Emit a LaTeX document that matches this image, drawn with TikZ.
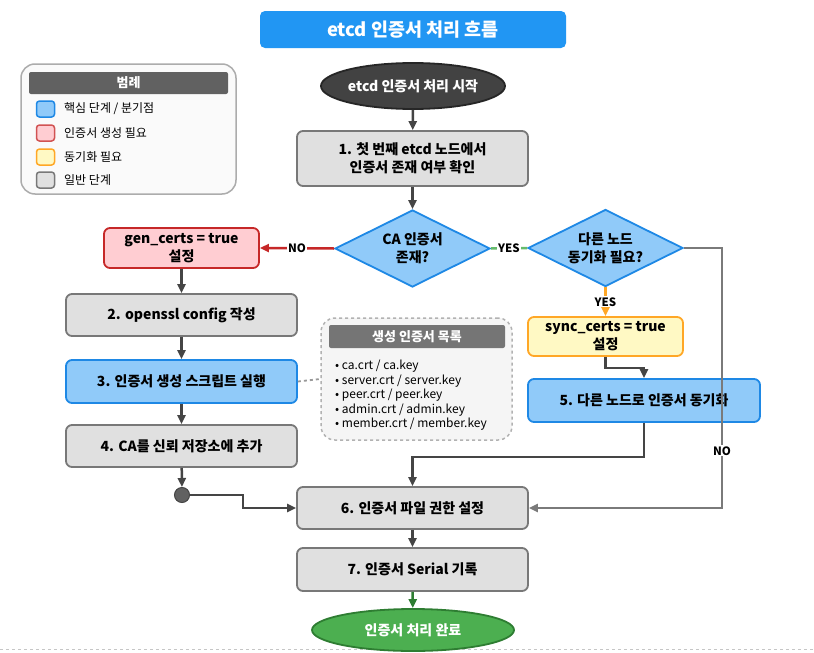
\documentclass[tikz,border=0pt]{standalone}
\usepackage{fontspec}
\setmainfont{Noto Sans CJK KR}
\usetikzlibrary{shapes.geometric,arrows.meta}
\definecolor{titleblue}{HTML}{2196F3}
\definecolor{linedark}{HTML}{454545}
\definecolor{grayfill}{HTML}{E0E0E0}
\definecolor{grayborder}{HTML}{787878}
\definecolor{bluefill}{HTML}{90CAF9}
\definecolor{blueborder}{HTML}{1E88E5}
\definecolor{redfill}{HTML}{FFCDD2}
\definecolor{redborder}{HTML}{C62828}
\definecolor{yelfill}{HTML}{FFF9C4}
\definecolor{yelborder}{HTML}{FFA726}
\definecolor{greenfill}{HTML}{4CAF50}
\definecolor{greenborder}{HTML}{2E7D32}
\definecolor{yesgreen}{HTML}{66BB6A}
\definecolor{nogray}{HTML}{7A7A7A}
\definecolor{startfill}{HTML}{424242}
\definecolor{legendbg}{HTML}{FAFAFA}
\definecolor{legendhead}{HTML}{616161}
\definecolor{listbg}{HTML}{F5F5F5}
\definecolor{listhead}{HTML}{757575}
\begin{document}
\begin{tikzpicture}[x=1pt,y=-1pt,
  base/.style={rectangle, rounded corners=6pt, line width=1.8pt, align=center,
     font=\fontsize{14}{18}\selectfont\bfseries, text=black, inner sep=0pt},
  graybox/.style={base, fill=grayfill, draw=grayborder, minimum width=231pt},
  bluebox/.style={base, fill=bluefill, draw=blueborder},
  redbox/.style={base, fill=redfill, draw=redborder},
  yelbox/.style={base, fill=yelfill, draw=yelborder},
  decision/.style={diamond, aspect=2, inner sep=0pt, minimum width=155pt, minimum height=77pt,
     fill=bluefill, draw=blueborder, line width=1.8pt, align=center,
     font=\fontsize{14}{18}\selectfont\bfseries},
  conn/.style={draw=linedark, line width=2.5pt, -{Triangle[length=9pt,width=8pt]}},
  lbl/.style={fill=white, inner sep=1pt, text=black, font=\fontsize{11.5}{13}\selectfont\bfseries},
  swatch/.style={rectangle, rounded corners=3pt, minimum width=18pt, minimum height=16pt, line width=1.5pt, inner sep=0pt},
  legtext/.style={anchor=west, font=\fontsize{12}{14}\selectfont, inner sep=0pt},
  listitem/.style={anchor=west, font=\fontsize{12}{14}\selectfont, inner sep=0pt}
]
\useasboundingbox (0,0) rectangle (814,653);
\fill[white] (0,0) rectangle (814,653);
\draw[gray!45, dashed, line width=1pt] (0,649) -- (814,649);

% title
\node[rectangle, rounded corners=5pt, fill=titleblue, minimum width=306pt, minimum height=37pt,
  text=white, font=\fontsize{18.5}{21}\selectfont\bfseries] (title) at (413,29.5) {etcd 인증서 처리 흐름};

% legend
\node[rectangle, rounded corners=14pt, draw=gray!65, line width=1.5pt, fill=legendbg,
  minimum width=215pt, minimum height=130pt] (legend) at (128.5,129) {};
\node[rectangle, rounded corners=2pt, fill=legendhead, minimum width=199pt, minimum height=22pt,
  text=white, font=\fontsize{13}{15}\selectfont\bfseries] (leghead) at (128.5,83) {범례};
\node[swatch, fill=bluefill, draw=blueborder] (sw1) at (45.5,109) {};
\node[swatch, fill=redfill, draw=redborder!80] (sw2) at (45.5,133) {};
\node[swatch, fill=yelfill, draw=yelborder] (sw3) at (45.5,157) {};
\node[swatch, fill=grayfill, draw=grayborder] (sw4) at (45.5,180) {};
\node[legtext] (lt1) at (64,109) {핵심 단계 / 분기점};
\node[legtext] (lt2) at (64,133) {인증서 생성 필요};
\node[legtext] (lt3) at (64,157) {동기화 필요};
\node[legtext] (lt4) at (64,180) {일반 단계};

% start
\node[ellipse, fill=startfill, draw=black!85, line width=1.8pt, minimum width=130pt, minimum height=46pt,
  inner sep=0pt, text=white, font=\fontsize{14}{16}\selectfont\bfseries] (start) at (413,86) {etcd 인증서 처리 시작};

\node[graybox, minimum height=55pt] (s1) at (412.5,158.5) {1. 첫 번째 etcd 노드에서\\인증서 존재 여부 확인};

\node[decision] (ca) at (412.5,248.5) {CA 인증서\\존재?};
\node[decision] (sync) at (605.5,248) {다른 노드\\동기화 필요?};

\node[redbox, minimum width=155pt, minimum height=40pt] (gen) at (181.5,248) {gen\_certs = true\\설정};
\node[graybox, minimum height=42pt] (s2) at (181.5,315) {2. openssl config 작성};
\node[bluebox, minimum width=231pt, minimum height=43pt] (s3) at (181.5,381.5) {3. 인증서 생성 스크립트 실행};
\node[graybox, minimum height=42pt] (s4) at (181.5,446) {4. CA를 신뢰 저장소에 추가};
\node[circle, fill=legendhead, draw=linedark, line width=1pt, minimum size=15pt, inner sep=0pt] (junc) at (182,495) {};

\node[yelbox, minimum width=155pt, minimum height=39pt] (sc) at (605.5,336.5) {sync\_certs = true\\설정};
\node[bluebox, minimum width=232pt, minimum height=43pt] (s5) at (644,400.5) {5. 다른 노드로 인증서 동기화};

\node[graybox, minimum height=42pt] (s6) at (412.5,508) {6. 인증서 파일 권한 설정};
\node[graybox, minimum height=43pt] (s7) at (412.5,569.5) {7. 인증서 Serial 기록};
\node[ellipse, fill=greenfill, draw=greenborder, line width=1.8pt, minimum width=202pt, minimum height=42pt,
  inner sep=0pt, text=white, font=\fontsize{14}{16}\selectfont\bfseries] (end) at (413,630) {인증서 처리 완료};

% list box
\node[rectangle, rounded corners=14pt, draw=gray!60, dashed, line width=1.5pt, fill=listbg,
  minimum width=191pt, minimum height=122pt] (list) at (416.5,379) {};
\node[rectangle, rounded corners=2pt, fill=listhead, minimum width=176pt, minimum height=23pt,
  text=white, font=\fontsize{13}{15}\selectfont\bfseries] (listhead) at (417,336.5) {생성 인증서 목록};
\node[listitem] (li1) at (335,366) {• ca.crt / ca.key};
\node[listitem] (li2) at (335,381) {• server.crt / server.key};
\node[listitem] (li3) at (335,395) {• peer.crt / peer.key};
\node[listitem] (li4) at (335,410) {• admin.crt / admin.key};
\node[listitem] (li5) at (335,424) {• member.crt / member.key};

% connectors
\draw[conn] (start) -- (s1);
\draw[conn] (s1) -- (ca);
\draw[conn, draw=redborder, color=redborder] (ca.west) -- node[lbl] {NO} (gen.east);
\draw[draw=yesgreen, line width=2.5pt] (ca.east) -- node[lbl] {YES} (sync.west);
\draw[conn, draw=nogray, color=nogray] (sync.east) -- (722,248) -- node[lbl, pos=0.78] {NO} (722,508) -- (s6.east);
\draw[conn, draw=yelborder, color=yelborder] (sync.south) -- node[lbl] {YES} (sc.north);
\draw[conn] (sc.south) -- (605.5,368) -- (644,368) -- (s5.north);
\draw[conn] (s5.south) -- (644,457) -- (412.5,457) -- (s6.north);
\draw[conn] (gen) -- (s2);
\draw[conn] (s2) -- (s3);
\draw[conn] (s3) -- (s4);
\draw[conn] (s4) -- (junc);
\draw[conn] (junc.east) -- (243,495) -- (243,508) -- (s6.west);
\draw[draw=gray!80, dashed, line width=1.8pt] (s3.east) -- (list.west);
\draw[conn] (s6) -- (s7);
\draw[conn, draw=greenborder, color=greenborder] (s7) -- (end);
\end{tikzpicture}
\end{document}
